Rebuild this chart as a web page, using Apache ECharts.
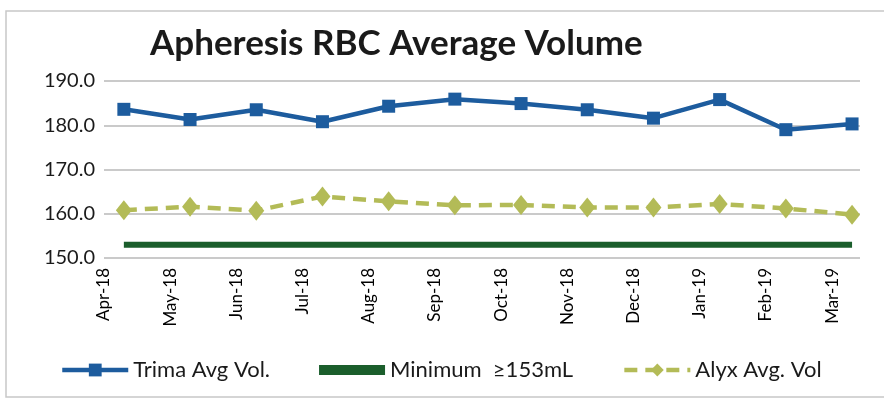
<!DOCTYPE html>
<html>
<head>
<meta charset="utf-8">
<script src="https://cdn.jsdelivr.net/npm/echarts@6/dist/echarts.min.js"></script>
<style>
  html, body { margin: 0; padding: 0; background: #fff; }
  #chart-container { width: 884px; height: 400px; }
</style>
</head>
<body>
<div id="chart-container"></div>
<script>
// months on the date axis
var months = ['Apr-18', 'May-18', 'Jun-18', 'Jul-18', 'Aug-18', 'Sep-18',
              'Oct-18', 'Nov-18', 'Dec-18', 'Jan-19', 'Feb-19', 'Mar-19'];
var trimaAvg = [183.6, 181.3, 183.5, 180.8, 184.3, 185.9, 184.9, 183.5, 181.6, 185.8, 179.0, 180.3];
var alyxAvg  = [160.8, 161.6, 160.7, 163.9, 162.8, 161.9, 162.0, 161.4, 161.4, 162.2, 161.2, 159.8];
var minimum  = [153, 153, 153, 153, 153, 153, 153, 153, 153, 153, 153, 153];
var yTicks = [150, 160, 170, 180, 190];

// data dates sit about a third of the way into each month
var dayShift = 0.3;

function toPoints(vals) {
  return vals.map(function (v, i) { return [i + dayShift, v]; });
}

var dom = document.getElementById('chart-container');
var myChart = echarts.init(dom, null, { renderer: 'canvas' });

var font = 'Lato, "Open Sans", sans-serif';

var option = {
  animation: false,
  backgroundColor: '#fff',
  textStyle: { fontFamily: font },
  title: {
    text: 'Apheresis RBC Average Volume',
    left: 145,
    top: 21,
    textStyle: { fontFamily: font, fontSize: 35, fontWeight: 'bold', color: '#1a1a1a' }
  },
  graphic: [{
    type: 'rect',
    shape: { x: 6, y: 11, width: 900, height: 386 },
    style: { fill: null, stroke: '#c8c8c8', lineWidth: 1.5 },
    silent: true
  }],
  legend: {
    bottom: 14,
    left: 55,
    itemWidth: 66,
    itemHeight: 16,
    itemGap: 49,
    textStyle: { fontFamily: font, fontSize: 22, color: '#1a1a1a' },
    data: [
      { name: 'Trima Avg Vol.', lineStyle: { width: 4.5 } },
      { name: 'Minimum  ≥153mL', icon: 'path://M0,0h40v6h-40z', lineStyle: { width: 6 } },
      { name: 'Alyx Avg. Vol', lineStyle: { width: 4.5 } }
    ]
  },
  grid: { left: 104, right: 24, top: 81, bottom: 142, containLabel: false },
  xAxis: {
    type: 'value',
    min: 0,
    max: 11.42,
    interval: 1,
    axisLine: { show: false },
    axisTick: { show: false },
    splitLine: { show: false },
    axisLabel: {
      rotate: 90,
      margin: 10,
      fontSize: 17,
      color: '#000',
      formatter: function (v) {
        return Number.isInteger(v) && months[v] ? months[v] : '';
      }
    }
  },
  yAxis: {
    type: 'value',
    min: yTicks[0],
    max: yTicks[yTicks.length - 1],
    interval: 10,
    axisLine: { show: false },
    axisTick: { show: false },
    splitLine: { lineStyle: { color: '#b8b8b8', width: 1.5 } },
    axisLabel: {
      margin: 9,
      fontSize: 20,
      color: '#1a1a1a',
      formatter: function (v) { return v.toFixed(1); }
    }
  },
  series: [
    {
      name: 'Trima Avg Vol.',
      type: 'line',
      data: toPoints(trimaAvg),
      symbol: 'rect',
      symbolSize: 13,
      lineStyle: { color: '#1d5c9e', width: 4.5 },
      itemStyle: { color: '#1d5c9e' },
      z: 4
    },
    {
      name: 'Minimum  ≥153mL',
      type: 'line',
      data: toPoints(minimum),
      symbol: 'none',
      lineStyle: { color: '#1b5e2c', width: 6 },
      itemStyle: { color: '#1b5e2c' },
      z: 2
    },
    {
      name: 'Alyx Avg. Vol',
      type: 'line',
      data: toPoints(alyxAvg),
      symbol: 'diamond',
      symbolSize: [16, 20],
      lineStyle: { color: '#b3bb57', width: 4.5, type: [13, 8] },
      itemStyle: { color: '#b3bb57' },
      z: 3
    }
  ]
};

myChart.setOption(option);
window.addEventListener('resize', myChart.resize);
</script>
</body>
</html>
